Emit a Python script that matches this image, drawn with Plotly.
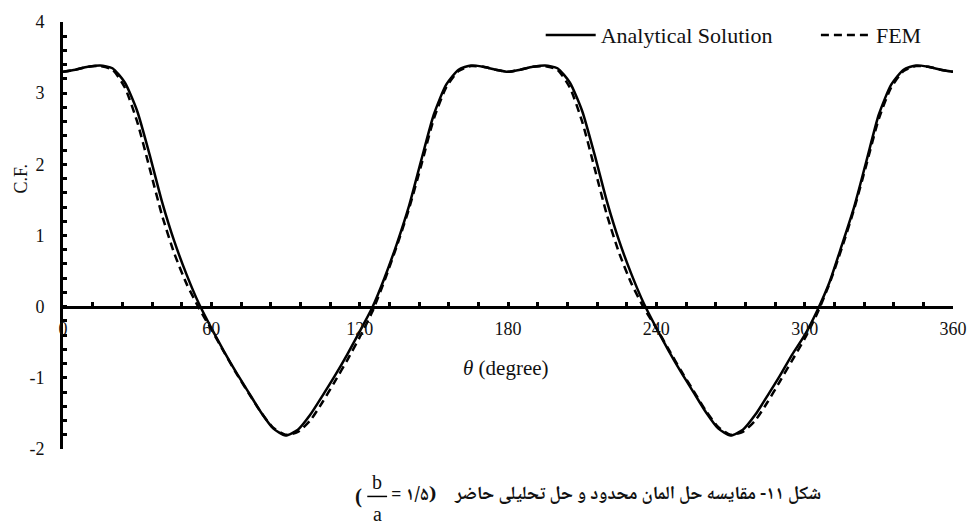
import plotly.graph_objects as go

# Angle around the hole (degrees) and the stress concentration factor
theta = list(range(0, 361, 5))

analytical = [
    3.30, 3.33, 3.37, 3.39, 3.35, 3.15, 2.75, 2.14, 1.48, 0.92, 0.45, 0.04,
    -0.30, -0.62, -0.92, -1.20, -1.48, -1.71, -1.81,
    -1.73, -1.52, -1.25, -0.97, -0.67, -0.35, -0.02, 0.40, 0.88, 1.42, 2.07,
    2.70, 3.12, 3.33, 3.39, 3.37, 3.33, 3.30,
    3.33, 3.37, 3.39, 3.35, 3.15, 2.75, 2.14, 1.48, 0.92, 0.45, 0.04,
    -0.30, -0.62, -0.92, -1.20, -1.48, -1.71, -1.81,
    -1.73, -1.52, -1.25, -0.97, -0.67, -0.40, -0.06, 0.34, 0.86, 1.40, 2.05,
    2.70, 3.12, 3.33, 3.39, 3.37, 3.33, 3.30,
]

fem = [
    3.30, 3.33, 3.37, 3.38, 3.33, 3.08, 2.60, 1.95, 1.29, 0.75, 0.32, -0.02,
    -0.32, -0.63, -0.93, -1.21, -1.48, -1.70, -1.80,
    -1.76, -1.60, -1.34, -1.05, -0.75, -0.43, -0.08, 0.36, 0.85, 1.38, 2.00,
    2.64, 3.08, 3.31, 3.38, 3.37, 3.33, 3.30,
    3.33, 3.37, 3.38, 3.33, 3.08, 2.60, 1.95, 1.29, 0.75, 0.32, -0.02,
    -0.30, -0.60, -0.90, -1.18, -1.46, -1.69, -1.80,
    -1.76, -1.60, -1.34, -1.05, -0.75, -0.45, -0.10, 0.32, 0.82, 1.37, 2.00,
    2.64, 3.08, 3.31, 3.38, 3.37, 3.33, 3.30,
]

x_ticks = [0, 60, 120, 180, 240, 300, 360]
y_ticks = [-2, -1, 0, 1, 2, 3, 4]

W, H = 979, 526
L, R, T, B = 63, 18, 17, 77
PW, PH = W - L - R, H - T - B


def px(x):
    return (x - L) / PW


def py(y):
    return (H - B - y) / PH


SERIF = "Liberation Serif, Times New Roman, serif"
ARABIC = "Noto Naskh Arabic, Noto Sans Arabic, DejaVu Sans, sans-serif"
NBSP = "\u00a0"

fig = go.Figure()
fig.add_trace(go.Scatter(
    x=theta, y=analytical, mode="lines", name="Analytical Solution" + NBSP * 7,
    line=dict(color="black", width=2.5, shape="spline", smoothing=0.6),
))
fig.add_trace(go.Scatter(
    x=theta, y=fem, mode="lines", name="FEM",
    line=dict(color="black", width=2.5, dash="8px,5px", shape="spline", smoothing=0.6),
))

fig.update_layout(
    width=W, height=H,
    margin=dict(l=L, r=R, t=T, b=B),
    paper_bgcolor="white", plot_bgcolor="white",
    font=dict(family=SERIF, size=18, color="#111"),
    legend=dict(
        orientation="h", x=px(545), y=py(9), xanchor="left", yanchor="top",
        font=dict(family=SERIF, size=22, color="#111"),
        bgcolor="rgba(0,0,0,0)", itemwidth=50,
    ),
    xaxis=dict(
        range=[0, 360], tickvals=x_ticks, ticktext=[str(v) for v in x_ticks],
        anchor="free", position=2 / 6,
        showline=True, linecolor="black", linewidth=3,
        ticks="inside", ticklen=4, tickwidth=2.5, tickcolor="black",
        minor=dict(dtick=12, ticks="inside", ticklen=4, tickwidth=2.5, tickcolor="black"),
        showgrid=False, zeroline=False, ticklabelstandoff=5,
        tickfont=dict(family=SERIF, size=18, color="#111"),
    ),
    yaxis=dict(
        range=[-2, 4], tickvals=y_ticks, ticktext=[str(v) for v in y_ticks],
        showline=True, linecolor="black", linewidth=3,
        ticks="inside", ticklen=4, tickwidth=2.5, tickcolor="black",
        minor=dict(dtick=0.2, ticks="inside", ticklen=4, tickwidth=2.5, tickcolor="black"),
        showgrid=False, zeroline=False, ticklabelstandoff=12,
        tickfont=dict(family=SERIF, size=18, color="#111"),
    ),
)

ann = [
    dict(x=px(21), y=py(175), text="C.F.", textangle=-90,
         font=dict(family=SERIF, size=18, color="#111")),
    dict(x=px(510), y=py(367), text="<i>θ</i> (degree)",
         font=dict(family=SERIF, size=21, color="#111")),
    dict(x=px(830), y=py(496), xanchor="right",
         text="<b>شکل ۱۱- مقایسه حل المان محدود و حل تحلیلی حاضر</b>",
         font=dict(family=ARABIC, size=18.5, color="#111")),
    dict(x=px(361), y=py(497), text="<b>(</b>",
         font=dict(family=SERIF, size=21, color="#111")),
    dict(x=px(380), y=py(482), text="b",
         font=dict(family=SERIF, size=20, color="#111")),
    dict(x=px(380), y=py(515), text="a",
         font=dict(family=SERIF, size=20, color="#111")),
    dict(x=px(392), y=py(497), xanchor="left", text="<b>= ۱/۵)</b>",
         font=dict(family=ARABIC, size=18.5, color="#111")),
]
for a in ann:
    a.update(xref="paper", yref="paper", showarrow=False)
    a.setdefault("xanchor", "center")
    a.setdefault("yanchor", "middle")
fig.update_layout(annotations=ann)

fig.add_shape(type="line", xref="paper", yref="paper",
              x0=px(370), x1=px(390), y0=py(497), y1=py(497),
              line=dict(color="black", width=1.5))

fig.write_html("out.html")
